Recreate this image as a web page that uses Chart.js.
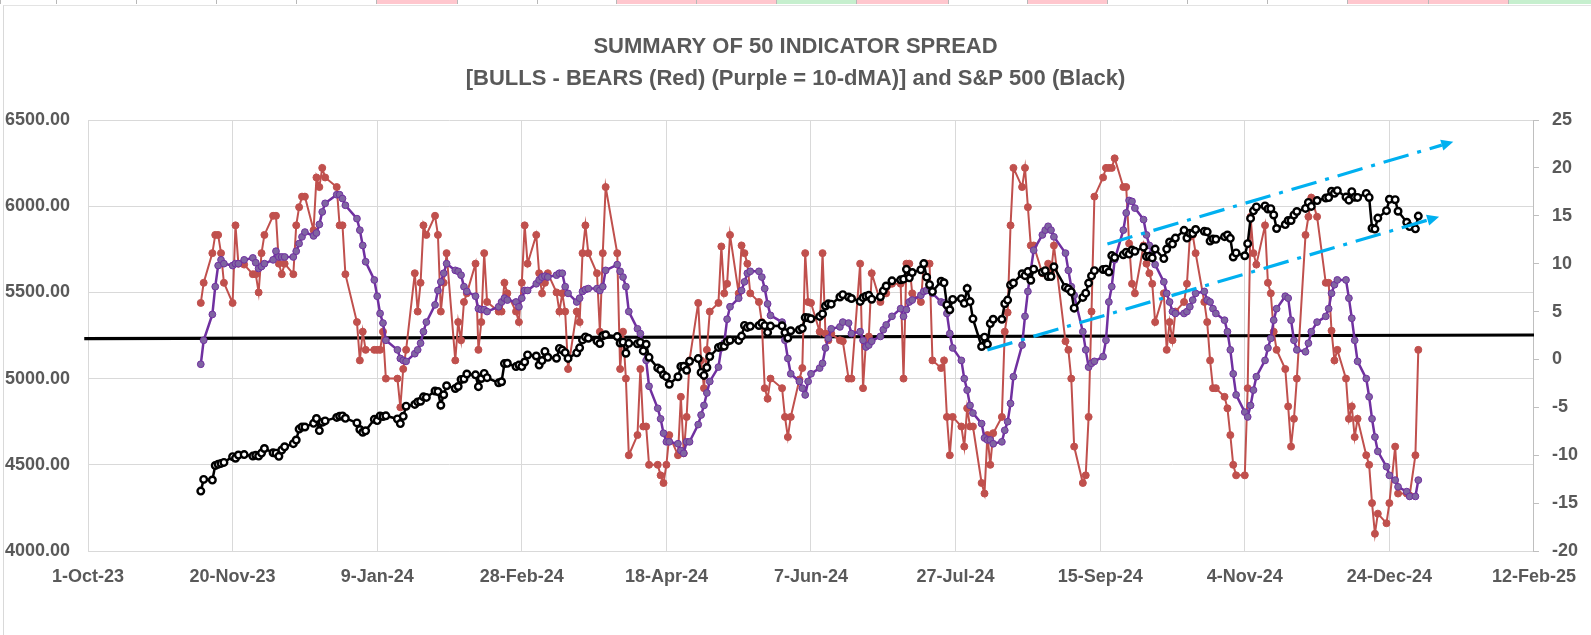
<!DOCTYPE html>
<html><head><meta charset="utf-8">
<script src="https://cdn.jsdelivr.net/npm/chart.js"></script>
<style>
html,body{margin:0;padding:0;background:#fff;}
#wrap{position:relative;width:1591px;height:635px;overflow:hidden;background:#fff;}
#frame{position:absolute;left:3px;top:5px;width:1600px;height:700px;border-left:1px solid #d9d9d9;border-top:1px solid #e3e3e3;}
#strip{position:absolute;left:0;top:0;width:1591px;height:4px;}
.cell{position:absolute;top:0;height:4px;border-left:1px solid #b8b8b8;box-sizing:border-box;}
canvas{position:absolute;left:0;top:0;}
</style></head>
<body>
<div id="wrap"><div id="frame"></div><canvas id="c" width="1591" height="635"></canvas><div id="strip"></div></div>
<script>
// ---------- DATA ----------
const dates = [
'2023-11-09','2023-11-10','2023-11-13','2023-11-14','2023-11-15','2023-11-16','2023-11-17','2023-11-20','2023-11-21','2023-11-22','2023-11-24','2023-11-27','2023-11-28','2023-11-29','2023-11-30',
'2023-12-01','2023-12-04','2023-12-05','2023-12-06','2023-12-07','2023-12-08','2023-12-11','2023-12-12','2023-12-13','2023-12-14','2023-12-15','2023-12-18','2023-12-19','2023-12-20','2023-12-21','2023-12-22','2023-12-26','2023-12-27','2023-12-28','2023-12-29',
'2024-01-02','2024-01-03','2024-01-04','2024-01-05','2024-01-08','2024-01-09','2024-01-10','2024-01-11','2024-01-12','2024-01-16','2024-01-17','2024-01-18','2024-01-19','2024-01-22','2024-01-23','2024-01-24','2024-01-25','2024-01-26','2024-01-29','2024-01-30','2024-01-31',
'2024-02-01','2024-02-02','2024-02-05','2024-02-06','2024-02-07','2024-02-08','2024-02-09','2024-02-12','2024-02-13','2024-02-14','2024-02-15','2024-02-16','2024-02-20','2024-02-21','2024-02-22','2024-02-23','2024-02-26','2024-02-27','2024-02-28','2024-02-29',
'2024-03-01','2024-03-04','2024-03-05','2024-03-06','2024-03-07','2024-03-08','2024-03-11','2024-03-12','2024-03-13','2024-03-14','2024-03-15','2024-03-18','2024-03-19','2024-03-20','2024-03-21','2024-03-22','2024-03-25','2024-03-26','2024-03-27','2024-03-28',
'2024-04-01','2024-04-02','2024-04-03','2024-04-04','2024-04-05','2024-04-08','2024-04-09','2024-04-10','2024-04-11','2024-04-12','2024-04-15','2024-04-16','2024-04-17','2024-04-18','2024-04-19','2024-04-22','2024-04-23','2024-04-24','2024-04-25','2024-04-26','2024-04-29','2024-04-30',
'2024-05-01','2024-05-02','2024-05-03','2024-05-06','2024-05-07','2024-05-08','2024-05-09','2024-05-10','2024-05-13','2024-05-14','2024-05-15','2024-05-16','2024-05-17','2024-05-20','2024-05-21','2024-05-22','2024-05-23','2024-05-24','2024-05-28','2024-05-29','2024-05-30','2024-05-31',
'2024-06-03','2024-06-04','2024-06-05','2024-06-06','2024-06-07','2024-06-10','2024-06-11','2024-06-12','2024-06-13','2024-06-14','2024-06-17','2024-06-18','2024-06-20','2024-06-21','2024-06-24','2024-06-25','2024-06-26','2024-06-27','2024-06-28',
'2024-07-01','2024-07-02','2024-07-03','2024-07-05','2024-07-08','2024-07-09','2024-07-10','2024-07-11','2024-07-12','2024-07-15','2024-07-16','2024-07-17','2024-07-18','2024-07-19','2024-07-22','2024-07-23','2024-07-24','2024-07-25','2024-07-26','2024-07-29','2024-07-30','2024-07-31',
'2024-08-01','2024-08-02','2024-08-05','2024-08-06','2024-08-07','2024-08-08','2024-08-09','2024-08-12','2024-08-13','2024-08-14','2024-08-15','2024-08-16','2024-08-19','2024-08-20','2024-08-21','2024-08-22','2024-08-23','2024-08-26','2024-08-27','2024-08-28','2024-08-29','2024-08-30',
'2024-09-03','2024-09-04','2024-09-05','2024-09-06','2024-09-09','2024-09-10','2024-09-11','2024-09-12','2024-09-13','2024-09-16','2024-09-17','2024-09-18','2024-09-19','2024-09-20','2024-09-23','2024-09-24','2024-09-25','2024-09-26','2024-09-27','2024-09-30',
'2024-10-01','2024-10-02','2024-10-03','2024-10-04','2024-10-07','2024-10-08','2024-10-09','2024-10-10','2024-10-11','2024-10-14','2024-10-15','2024-10-16','2024-10-17','2024-10-18','2024-10-21','2024-10-22','2024-10-23','2024-10-24','2024-10-25','2024-10-28','2024-10-29','2024-10-30','2024-10-31',
'2024-11-01','2024-11-04','2024-11-05','2024-11-06','2024-11-07','2024-11-08','2024-11-11','2024-11-12','2024-11-13','2024-11-14','2024-11-15','2024-11-18','2024-11-19','2024-11-20','2024-11-21','2024-11-22','2024-11-25','2024-11-26','2024-11-27','2024-11-29',
'2024-12-02','2024-12-03','2024-12-04','2024-12-05','2024-12-06','2024-12-09','2024-12-10','2024-12-11','2024-12-12','2024-12-13','2024-12-16','2024-12-17','2024-12-18','2024-12-19','2024-12-20','2024-12-23','2024-12-24','2024-12-26','2024-12-27','2024-12-30','2024-12-31',
'2025-01-02','2025-01-03'
];

// S&P 500 (left axis)
const spx = [
4347.35,4415.24,4411.55,4495.70,4502.88,4508.24,4514.02,4547.38,4538.19,4556.62,4559.34,4550.43,4554.89,4550.58,4567.80,
4594.63,4569.78,4567.18,4549.34,4585.59,4604.37,4622.44,4643.70,4707.09,4719.55,4719.19,4740.56,4768.37,4698.35,4746.75,4754.63,4774.75,4781.58,4783.35,4769.83,
4742.83,4704.81,4688.68,4697.24,4763.54,4756.50,4783.45,4780.24,4783.83,4765.98,4739.21,4780.94,4839.81,4850.43,4864.60,4868.55,4894.16,4890.97,4927.93,4924.97,4845.65,
4906.19,4958.61,4942.81,4954.23,4995.06,4997.91,5026.61,5021.84,4953.17,5000.62,5029.73,5005.57,4975.51,4981.80,5087.03,5088.80,5069.53,5078.18,5069.76,5096.27,
5137.08,5130.95,5078.65,5104.76,5157.36,5123.69,5117.94,5175.27,5165.31,5150.48,5117.09,5149.42,5178.51,5224.62,5241.53,5234.18,5218.19,5203.58,5248.49,5254.35,
5243.77,5205.81,5211.49,5147.21,5204.34,5202.39,5209.91,5160.64,5199.06,5123.41,5061.82,5051.41,5022.21,5011.12,4967.23,5010.60,5070.55,5071.63,5048.42,5099.96,5116.17,5035.69,
5018.39,5064.20,5127.79,5180.74,5187.70,5187.67,5214.08,5222.68,5221.42,5246.68,5308.15,5297.10,5303.27,5308.13,5321.41,5307.01,5267.84,5304.72,5306.04,5266.95,5235.48,5277.51,
5283.40,5291.34,5354.03,5352.96,5346.99,5360.79,5375.32,5421.03,5433.74,5431.60,5473.23,5487.03,5473.17,5464.62,5447.87,5469.30,5477.90,5482.87,5460.48,
5475.09,5509.01,5537.02,5567.19,5572.85,5576.98,5633.91,5584.54,5615.35,5631.22,5667.20,5588.27,5544.59,5505.00,5564.41,5555.74,5427.13,5399.22,5459.10,5463.54,5436.44,5522.30,
5446.68,5346.56,5186.33,5240.03,5199.50,5319.31,5344.16,5344.39,5434.43,5455.21,5543.22,5554.25,5608.25,5597.12,5620.85,5570.64,5634.61,5616.84,5625.80,5592.18,5591.96,5648.40,
5528.93,5520.07,5503.41,5408.42,5471.05,5495.52,5554.13,5595.76,5626.02,5633.09,5634.58,5618.26,5713.64,5702.55,5718.57,5732.93,5722.26,5745.37,5738.17,5762.48,
5708.75,5709.54,5699.94,5751.07,5695.94,5751.13,5792.04,5780.05,5815.03,5859.85,5815.26,5842.47,5841.47,5864.67,5853.98,5851.20,5797.42,5809.86,5808.12,5823.52,5832.92,5813.67,5705.45,
5728.80,5712.69,5782.76,5929.04,5973.10,5995.54,6001.35,5983.99,5985.38,5949.17,5870.62,5893.62,5916.98,5917.11,5948.71,5969.34,5987.37,6021.63,5998.74,6032.38,
6047.15,6049.88,6086.49,6075.11,6090.27,6052.85,6034.91,6084.19,6051.25,6051.09,6074.08,6050.61,5872.16,5867.08,5930.85,5974.07,6040.04,6037.59,5970.84,5906.94,5881.63,
5868.55,5942.47
];

// Bulls - Bears spread (right axis, red)
const spread = [
5.9,8.0,11.1,13.0,13.0,11.1,8.0,5.9,14.0,10.0,9.9,8.9,8.9,7.0,11.1,
13.0,15.0,15.0,10.0,8.9,10.0,8.9,14.0,15.9,17.0,17.0,13.5,19.0,18.0,20.0,19.0,18.0,14.0,14.0,8.9,
3.9,-0.1,2.9,1.0,1.0,1.0,1.0,2.9,-2.0,-2.0,-5.0,-1.0,1.0,9.0,5.0,8.0,14.0,13.0,15.0,13.0,5.0,
8.0,11.1,-0.1,3.9,2.0,6.0,6.9,10.0,1.0,3.9,11.1,6.0,5.0,5.0,8.0,6.9,5.0,3.9,8.0,14.0,
10.0,13.0,9.0,6.9,8.0,9.0,7.0,5.0,6.9,5.0,-1.0,5.0,3.9,11.1,14.0,11.1,9.0,2.9,11.1,18.0,
11.1,-1.0,2.9,-2.0,-10.0,-7.9,-1.0,-7.0,-7.0,-11.0,-11.0,-12.1,-12.9,-11.0,-7.9,-10.0,-3.9,-9.8,-6.0,-0.1,5.9,-0.1,
-3.0,1.0,5.0,5.9,11.8,6.9,7.9,13.0,6.9,11.9,11.1,10.0,6.9,6.0,3.9,-3.0,-4.1,-2.0,-3.0,-6.0,-8.1,-6.0,
-2.1,-0.9,11.1,6.0,5.9,2.9,11.1,2.7,2.0,2.7,2.0,1.9,-2.0,-2.0,10.0,-3.0,1.9,2.4,9.0,
6.0,6.9,6.9,7.9,7.9,-2.0,10.0,10.0,6.9,6.0,10.0,10.0,10.0,-0.1,-0.9,-0.1,-6.0,-10.0,-6.0,-7.0,-9.1,-5.1,
-7.0,-7.0,-12.9,-14.0,-7.9,-11.0,-7.7,-6.0,2.9,4.9,14.0,20.0,18.0,20.0,15.9,11.9,11.9,9.0,9.0,10.0,9.0,11.9,
1.9,1.0,-2.0,-9.1,-12.9,-12.1,-6.0,5.0,17.0,19.0,20.0,20.0,20.0,21.0,18.0,18.0,12.1,7.9,6.9,11.9,
10.0,9.0,7.9,3.9,6.9,1.0,3.9,2.0,5.0,6.0,7.9,12.8,13.0,11.1,6.0,3.9,-0.1,-3.0,-3.0,-3.9,-5.1,-7.9,-11.0,
-12.1,-12.1,-3.0,14.9,11.1,9.9,14.0,8.0,6.9,2.9,1.0,-1.0,-4.9,-9.1,-6.2,-2.0,13.0,14.9,16.9,14.9,
8.0,8.0,3.0,-0.1,1.0,-2.0,-6.2,-4.9,-8.1,-6.2,-10.0,-11.0,-15.0,-18.2,-16.1,-17.1,-15.0,-9.1,-14.0,-14.0,-14.2,
-10.0,1.0
];

// 10-day moving average of the spread (right axis, purple)
const ma10 = [
-0.5,2.0,4.7,7.6,9.8,10.4,10.0,9.8,10.0,10.0,10.4,10.6,10.1,9.5,9.7,
10.0,10.4,11.3,10.7,10.7,10.7,10.7,11.3,12.1,12.8,13.3,12.9,13.2,14.1,15.4,16.3,17.2,17.2,16.8,16.1,
14.7,13.5,11.9,10.2,8.3,6.6,4.8,3.8,2.0,1.0,0.1,-0.1,-0.2,0.6,1.0,1.7,2.9,3.9,5.7,7.2,8.1,
9.0,10.0,9.3,9.2,8.8,7.6,7.1,6.6,5.3,5.2,5.2,5.0,5.5,6.0,6.4,6.2,6.0,5.5,6.4,7.2,
7.2,7.9,8.3,8.6,8.7,8.6,8.8,9.0,9.0,7.6,6.9,6.0,6.4,7.1,7.3,7.4,7.4,7.2,7.6,9.3,
9.9,9.2,8.6,7.6,5.0,3.2,2.7,1.3,-0.1,-2.8,-5.1,-6.2,-7.7,-8.6,-8.6,-8.8,-9.5,-9.8,-8.6,-8.6,-6.8,-5.8,
-4.8,-3.5,-2.3,-0.8,1.2,1.7,4.2,5.5,6.4,7.2,8.1,9.0,9.2,9.2,8.6,7.4,5.8,4.6,3.9,2.0,0.1,-1.5,
-2.3,-3.0,-3.7,-2.3,-1.5,-0.9,-0.4,1.2,2.2,3.2,3.4,3.9,3.8,2.7,2.9,2.0,1.3,1.5,1.9,
2.4,3.1,3.6,4.5,5.3,4.5,5.2,6.0,6.2,6.7,7.1,7.2,7.6,6.9,6.0,5.9,4.8,2.7,1.2,-0.1,-2.0,-3.2,
-4.8,-5.6,-6.7,-8.2,-8.4,-8.4,-8.8,-8.6,-7.4,-6.5,-4.6,-1.8,1.5,4.5,7.1,9.3,11.4,13.0,13.5,13.9,13.5,12.8,
11.1,9.3,7.6,6.7,2.9,1.0,-0.8,-0.4,-0.2,0.3,2.0,6.0,7.6,10.4,13.5,15.3,16.6,16.5,15.8,14.6,
13.0,11.9,11.1,9.9,8.1,6.9,6.0,5.0,4.8,4.8,5.0,5.5,6.2,6.9,7.1,6.2,6.0,5.3,4.8,4.1,2.9,1.0,-1.5,
-3.7,-5.5,-6.0,-4.8,-3.2,-1.8,-0.1,1.2,2.2,4.1,5.3,6.6,6.4,4.1,2.0,1.0,0.8,1.7,2.9,3.9,
4.5,5.3,6.9,7.8,8.3,8.3,6.4,4.3,2.0,-0.2,-2.0,-3.9,-6.2,-8.1,-9.6,-11.2,-12.1,-12.6,-13.3,-13.8,-14.3,
-14.3,-12.6
];

// horizontal reference line (left-axis units) at start / end of the date range (days from 1-Oct-23)
const refLineDays = [-1.3, 500];
const refLineLevels = [5232, 5253];

// hand-drawn trend arrows: [day, S&P level] start -> end
const trendUpper = [[352.5, 5781], [472.1, 6374]];
const trendLower = [[311.0, 5166], [467.2, 5939]];

// axis definitions
const xTickStart = '2023-10-01';
const xTickStepDays = 50;
const xTickCount = 10;
const leftTicks = [4000, 6500, 500];
const rightTicks = [-20, 25, 5];

const titleLines = ['SUMMARY OF 50 INDICATOR SPREAD', '[BULLS - BEARS (Red) (Purple = 10-dMA)] and S&P 500 (Black)'];

// ---------- top spreadsheet strip ----------
const stripCells = [[0,56,'#fff'],[56,136,'#fff'],[136,216,'#fff'],[216,296,'#fff'],[296,376,'#fff'],[376,457,'#FFC7CE'],[457,537,'#fff'],[537,616,'#fff'],[616,696,'#FFC7CE'],[696,776,'#FFC7CE'],[776,856,'#C6EFCE'],[856,948,'#FFC7CE'],[948,1027,'#fff'],[1027,1107,'#FFC7CE'],[1107,1187,'#fff'],[1187,1267,'#fff'],[1267,1347,'#fff'],[1347,1428,'#FFC7CE'],[1428,1508,'#FFC7CE'],[1508,1591,'#C6EFCE']];
const strip = document.getElementById('strip');
stripCells.forEach(c => { const d = document.createElement('div'); d.className = 'cell'; d.style.left = c[0] + 'px'; d.style.width = (c[1] - c[0]) + 'px'; d.style.background = c[2]; strip.appendChild(d); });

// ---------- helpers ----------
const DAY = 86400000;
const parseD = s => { const p = s.split('-').map(Number); return Date.UTC(p[0], p[1] - 1, p[2]); };
const ORIGIN = parseD(xTickStart);
const toDay = s => Math.round((parseD(s) - ORIGIN) / DAY);
const MON = ['Jan','Feb','Mar','Apr','May','Jun','Jul','Aug','Sep','Oct','Nov','Dec'];
const fmtDay = v => { const dt = new Date(ORIGIN + v * DAY); return dt.getUTCDate() + '-' + MON[dt.getUTCMonth()] + '-' + String(dt.getUTCFullYear()).slice(2); };

const xs = dates.map(toDay);
const toPts = arr => xs.map((x, i) => ({ x: x, y: arr[i] }));

const FONT = '"Liberation Sans", Arial, sans-serif';
const TXT = '#595959';
const GRID = '#D9D9D9';
const TICKFONT = { family: FONT, size: 18, weight: 'bold' };

const arrowPlugin = {
  id: 'trendArrows',
  afterDatasetsDraw(chart) {
    const ctx = chart.ctx, x = chart.scales.x, y = chart.scales.y;
    ctx.save();
    [trendUpper, trendLower].forEach(t => {
      const x1 = x.getPixelForValue(t[0][0]), y1 = y.getPixelForValue(t[0][1]);
      const x2 = x.getPixelForValue(t[1][0]), y2 = y.getPixelForValue(t[1][1]);
      const a = Math.atan2(y2 - y1, x2 - x1), L = 12, W = 5.5;
      const bx = x2 - L * Math.cos(a), by = y2 - L * Math.sin(a);
      ctx.strokeStyle = '#00B0F0'; ctx.lineWidth = 3.2; ctx.lineCap = 'butt';
      ctx.setLineDash([26, 9, 4, 9]);
      ctx.beginPath(); ctx.moveTo(x1, y1); ctx.lineTo(bx, by); ctx.stroke();
      ctx.setLineDash([]);
      ctx.fillStyle = '#00B0F0';
      ctx.beginPath(); ctx.moveTo(x2, y2);
      ctx.lineTo(bx + W * Math.sin(a), by - W * Math.cos(a));
      ctx.lineTo(bx - W * Math.sin(a), by + W * Math.cos(a));
      ctx.closePath(); ctx.fill();
    });
    ctx.restore();
  }
};

new Chart(document.getElementById('c'), {
  type: 'line',
  data: {
    datasets: [
      { label: 'S&P 500', data: toPts(spx), yAxisID: 'y', order: 0,
        borderColor: '#000', borderWidth: 2.5, pointRadius: 3.3, pointBorderWidth: 2.4,
        pointBackgroundColor: '#fff', pointBorderColor: '#000', tension: 0 },
      { label: '10-dMA', data: toPts(ma10), yAxisID: 'y2', order: 1,
        borderColor: '#7030A0', borderWidth: 2.5, pointRadius: 3.4, pointBorderWidth: 1,
        pointBackgroundColor: '#8064A2', pointBorderColor: '#7030A0', tension: 0 },
      { label: 'Bulls - Bears', data: toPts(spread), yAxisID: 'y2', order: 2,
        borderColor: '#C0504D', borderWidth: 2, pointRadius: 3.5, pointBorderWidth: 1,
        pointBackgroundColor: '#C0504D', pointBorderColor: '#C0504D', tension: 0 },
      { label: 'ref', data: refLineDays.map((d, i) => ({ x: d, y: refLineLevels[i] })), yAxisID: 'y', order: 3,
        borderColor: '#000', borderWidth: 3.2, pointRadius: 0, clip: false, tension: 0 }
    ]
  },
  options: {
    responsive: false, animation: false, events: [],
    layout: { padding: 0 },
    plugins: {
      legend: { display: false }, tooltip: { enabled: false },
      title: { display: true, text: titleLines, color: TXT,
        font: { family: FONT, size: 22, weight: 'bold', lineHeight: '32px' },
        padding: { top: 31, bottom: 25 } }
    },
    scales: {
      x: { type: 'linear', min: 0, max: xTickStepDays * xTickCount,
        afterBuildTicks: s => { s.ticks = []; for (let i = 0; i <= xTickCount; i++) s.ticks.push({ value: i * xTickStepDays }); },
        ticks: { callback: v => fmtDay(v), color: TXT, font: TICKFONT, padding: 15, maxRotation: 0, autoSkip: false },
        grid: { color: GRID, drawTicks: false, lineWidth: 1 },
        border: { display: true, color: GRID },
        afterFit: s => { s.height = 84; } },
      y: { position: 'left', min: leftTicks[0], max: leftTicks[1],
        ticks: { stepSize: leftTicks[2], callback: v => Number(v).toFixed(2), color: TXT, font: TICKFONT, padding: 18 },
        grid: { color: GRID, drawTicks: false, lineWidth: 1 },
        border: { display: false },
        afterFit: s => { s.width = 88; } },
      y2: { position: 'right', min: rightTicks[0], max: rightTicks[1],
        ticks: { stepSize: rightTicks[2], color: TXT, font: TICKFONT, padding: 13 },
        grid: { drawOnChartArea: false, drawTicks: true, tickLength: 5, color: '#BFBFBF' },
        border: { display: true, color: '#BFBFBF' },
        afterFit: s => { s.width = 49; } }
    }
  },
  plugins: [arrowPlugin]
});
</script>
</body></html>
